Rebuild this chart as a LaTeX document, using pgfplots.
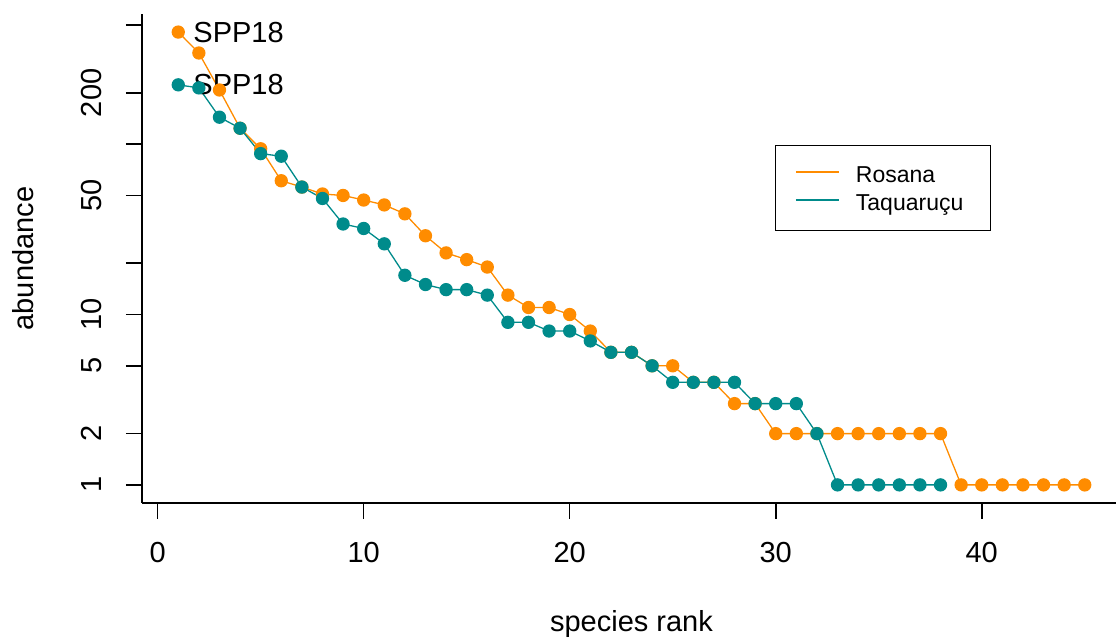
\documentclass[border=0pt]{standalone}
\usepackage{fontspec}
\setmainfont{Liberation Sans}
\usepackage{pgfplots}
\usepackage{pgfplotstable}
\pgfplotsset{compat=1.18}
\definecolor{rosana}{RGB}{255,140,0}
\definecolor{taqua}{RGB}{0,139,139}

\pgfplotstableread{
rank abund
1 455
2 343
3 208
4 124
5 94
6 61
7 56
8 51
9 50
10 47
11 44
12 39
13 29
14 23
15 21
16 19
17 13
18 11
19 11
20 10
21 8
22 6
23 6
24 5
25 5
26 4
27 4
28 3
29 3
30 2
31 2
32 2
33 2
34 2
35 2
36 2
37 2
38 2
39 1
40 1
41 1
42 1
43 1
44 1
45 1
}\rosana

\pgfplotstableread{
rank abund
1 223
2 214
3 144
4 124
5 88
6 85
7 56
8 48
9 34
10 32
11 26
12 17
13 15
14 14
15 14
16 13
17 9
18 9
19 8
20 8
21 7
22 6
23 6
24 5
25 4
26 4
27 4
28 4
29 3
30 3
31 3
32 2
33 1
34 1
35 1
36 1
37 1
38 1
}\taqua

\begin{document}
\begin{tikzpicture}
\useasboundingbox (0,0) rectangle (1116pt,637pt);
\begin{axis}[
  at={(142pt,134pt)}, anchor=south west,
  scale only axis, width=979pt, height=489pt,
  ymode=log, log basis y=10,
  xmin=-0.76, xmax=46.76, ymin=0.783, ymax=581,
  axis lines*=left,
  axis line style={line width=1.6pt, -},
  xtick={0,10,20,30,40},
  ytick={1,2,5,10,20,50,100,200,500},
  yticklabels={1,2,5,10,{},50,{},200,{}},
  yminorticks=false, xminorticks=false,
  tick align=outside, major tick length=16pt,
  tick style={line width=1.6pt, black},
  /pgf/number format/assume math mode=true,
  tick label style={font=\fontsize{29}{34}\selectfont},
  yticklabel style={rotate=90, anchor=south},
  xticklabel shift=20pt,
  yticklabel shift=21pt,
  label style={font=\fontsize{29}{34}\selectfont},
  xlabel={species rank},
  ylabel={abundance},
  xlabel style={at={(axis description cs:0.5,-0.2638)}, anchor=base},
  ylabel style={at={(axis description cs:-0.1113,0.5)}, anchor=base},
  legend style={at={(axis description cs:0.6466,0.7321)}, anchor=north west,
    draw=black, line width=1.2pt, inner xsep=21.5pt, inner ysep=14.5pt,
    font=\fontsize{23}{27}\selectfont,
    nodes={inner sep=5.5pt, text height=17pt, text depth=0pt},
    /tikz/every odd column/.append style={column sep=9pt}},
  legend cell align=left,
  legend image code/.code={\path (0pt,0pt) (43pt,0pt); \draw[#1, overlay] (-2pt,2pt) -- (41pt,2pt);},
]
\addplot[rosana, line width=1.3pt, mark=*, mark size=6pt, mark options={solid, fill=rosana, draw=rosana}, forget plot] table[x=rank, y=abund] {\rosana};
\addplot[taqua, line width=1.3pt, mark=*, mark size=6pt, mark options={solid, fill=taqua, draw=taqua}, forget plot] table[x=rank, y=abund] {\taqua};
\addlegendimage{rosana, line width=1.3pt}
\addlegendentry{Rosana}
\addlegendimage{taqua, line width=1.3pt}
\addlegendentry{Taquaruçu}
\node[anchor=west, inner sep=0pt, xshift=15pt, font=\fontsize{29}{34}\selectfont] at (axis cs:1,455) {SPP18};
\node[anchor=west, inner sep=0pt, xshift=15pt, font=\fontsize{29}{34}\selectfont] at (axis cs:1,223) {SPP18};
\end{axis}
\end{tikzpicture}
\end{document}
